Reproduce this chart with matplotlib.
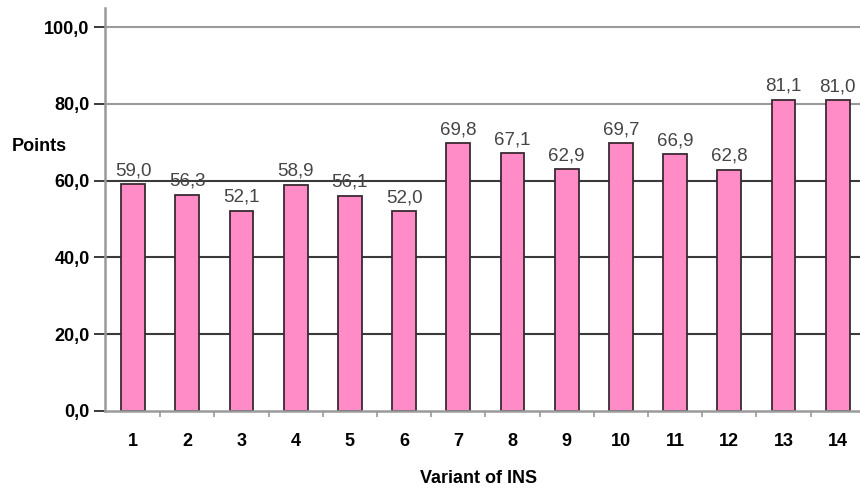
import numpy as np
import matplotlib.pyplot as plt
from matplotlib.ticker import FixedLocator

plt.rcParams['font.family'] = ['Liberation Sans', 'DejaVu Sans']

variants = list(range(1, 15))
points = [59.0, 56.3, 52.1, 58.9, 56.1, 52.0, 69.8, 67.1, 62.9, 69.7, 66.9, 62.8, 81.1, 81.0]
yticks = [0, 20, 40, 60, 80, 100]

fig = plt.figure(figsize=(8.6, 4.95), dpi=100)
ax = fig.add_axes([0.122, 0.170, 0.878, 0.814])

light = '#9a9a9a'
dark = '#3a3a3a'
# upper grid lines are lighter than the lower ones
for y in yticks[1:]:
    ax.axhline(y, color=light if y >= 80 else dark, lw=1.5, zorder=1)

x = np.array(variants)
ax.bar(x, points, width=0.44, color='#ff8cc6', edgecolor='#3a2a32', lw=1.3, zorder=2)

# value labels above the bars, with decimal comma
for xi, v in zip(x, points):
    ax.text(xi, v + 1.3, f'{v:.1f}'.replace('.', ','), ha='center', va='bottom',
            fontsize=13.5, color='#454545', zorder=3)

ax.set_xlim(0.48, 14.41)
ax.set_ylim(0, 105)

ax.set_yticks(yticks)
ax.set_yticklabels([f'{t:.1f}'.replace('.', ',') for t in yticks], fontsize=13, fontweight='bold')
ax.set_xticks(x)
ax.set_xticklabels([str(v) for v in variants], fontsize=13, fontweight='bold')
ax.xaxis.set_minor_locator(FixedLocator(np.arange(1.5, 14, 1)))
ax.tick_params(axis='x', which='major', length=0, pad=16)
ax.tick_params(axis='x', which='minor', length=4, color=light, width=1.2)
ax.tick_params(axis='y', length=8, color=dark, width=1.4, pad=3)

for s in ['top', 'right']:
    ax.spines[s].set_visible(False)
for s in ['left', 'bottom']:
    ax.spines[s].set_color(light)
    ax.spines[s].set_linewidth(1.8)

fig.text(0.014, 0.705, 'Points', fontsize=13, fontweight='bold', va='center', ha='left')
fig.text(0.556, 0.034, 'Variant of INS', fontsize=13, fontweight='bold', va='center', ha='center')

fig.savefig('out.png', dpi=100)
